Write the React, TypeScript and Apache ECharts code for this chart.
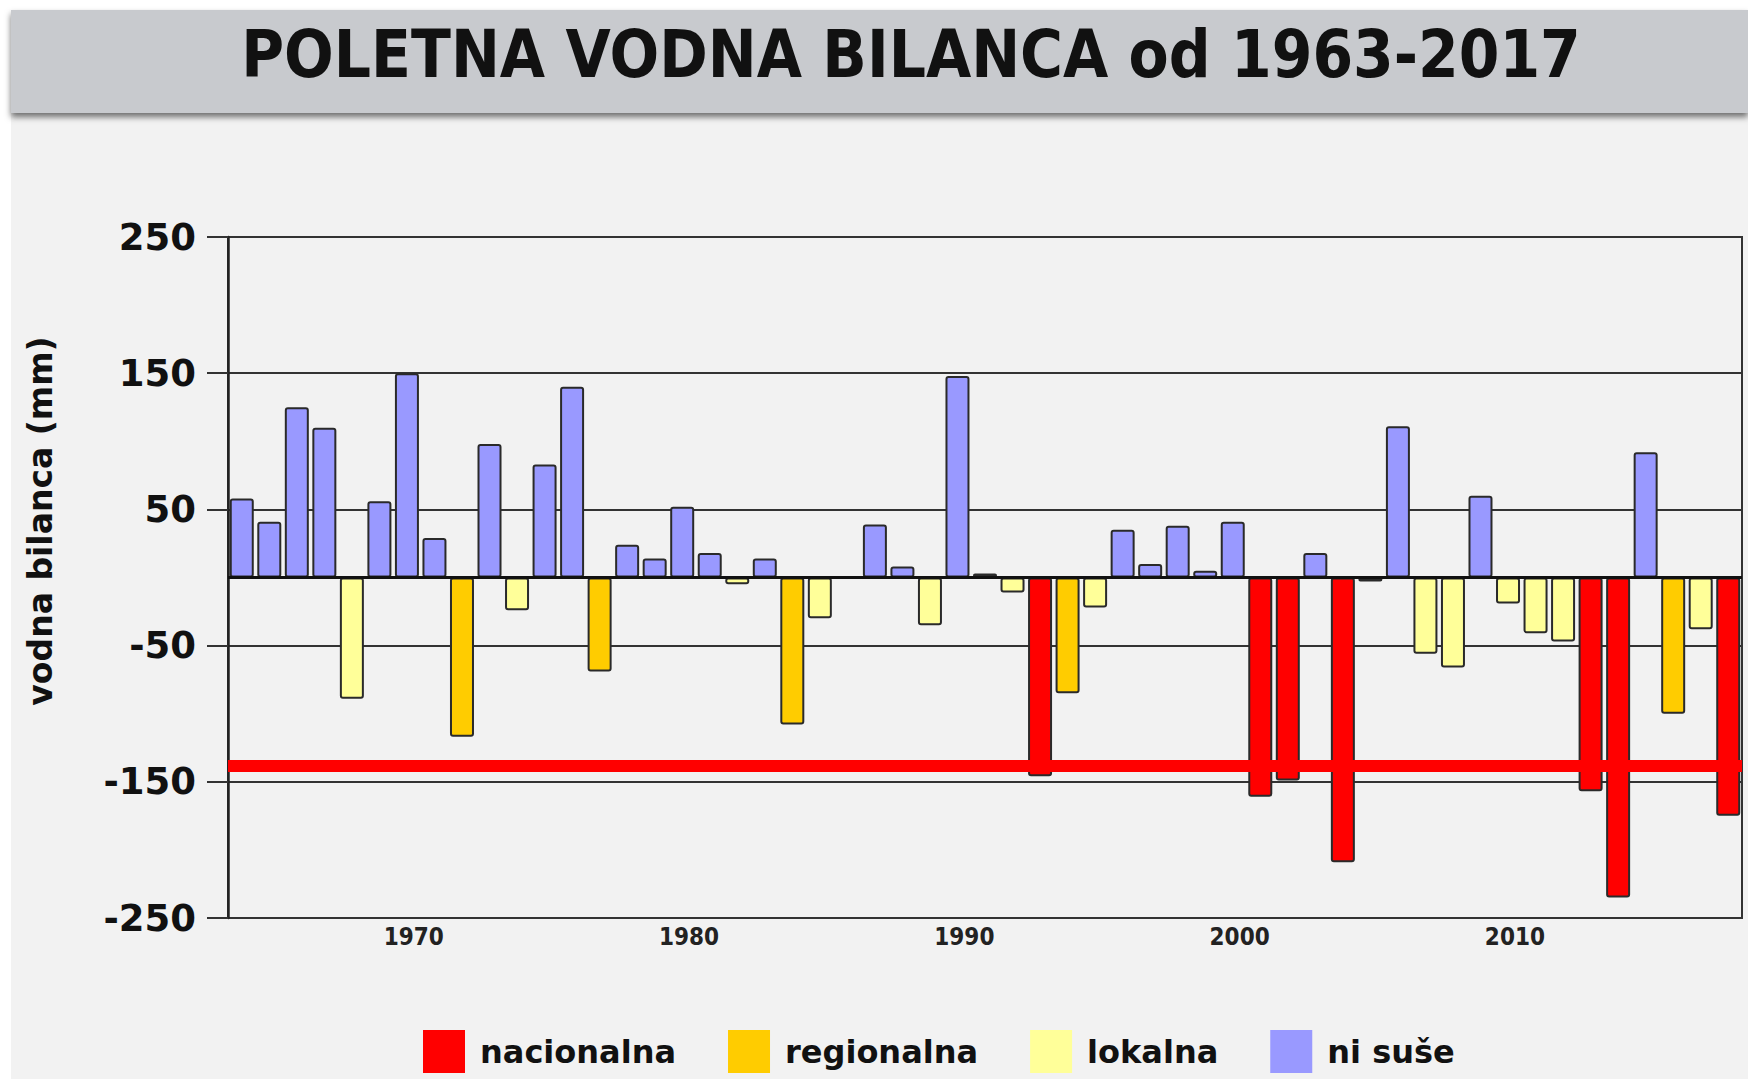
import React, { useEffect, useRef } from "react";
import * as echarts from "echarts";

// ---- Data ----
const YEARS = [
  1963, 1964, 1965, 1966, 1967, 1968, 1969, 1970, 1971, 1972,
  1973, 1974, 1975, 1976, 1977, 1978, 1979, 1980, 1981, 1982,
  1983, 1984, 1985, 1986, 1987, 1988, 1989, 1990, 1991, 1992,
  1993, 1994, 1995, 1996, 1997, 1998, 1999, 2000, 2001, 2002,
  2003, 2004, 2005, 2006, 2007, 2008, 2009, 2010, 2011, 2012,
  2013, 2014, 2015, 2016, 2017,
];
const VALUES = [
  58, 41, 125, 110, -89, 56, 150, 29, -117, 98,
  -24, 83, 140, -69, 24, 14, 52, 18, -5, 14,
  -108, -30, 0, 39, 8, -35, 148, 3, -11, -146,
  -85, -22, 35, 10, 38, 5, 41, -161, -149, 18,
  -209, -3, 111, -56, -66, 60, -19, -41, -47, -157,
  -235, 92, -100, -38, -175,
];
// N = nacionalna, R = regionalna, L = lokalna, S = ni suše
const DROUGHT_CLASS = [
  "S", "S", "S", "S", "L", "S", "S", "S", "R", "S",
  "L", "S", "S", "R", "S", "S", "S", "S", "L", "S",
  "R", "L", "S", "S", "S", "L", "S", "S", "L", "N",
  "R", "L", "S", "S", "S", "S", "S", "N", "N", "S",
  "N", "L", "S", "L", "L", "S", "L", "L", "L", "N",
  "N", "S", "R", "L", "N",
];
const CLASS_KEYS = ["N", "R", "L", "S"];
const CLASS_NAMES = ["nacionalna", "regionalna", "lokalna", "ni suše"];
const THRESHOLD = -138;
const Y_MIN = -250;
const Y_MAX = 250;
const Y_INTERVAL = 100;
const X_LABEL_YEARS = [1970, 1980, 1990, 2000, 2010];
const TITLE = "POLETNA VODNA BILANCA od 1963-2017";
const Y_NAME = "vodna bilanca (mm)";

// ---- Styles ----
const CLASS_COLORS = ["#FF0000", "#FFCC00", "#FFFF99", "#9999FF"];
const LABEL_SHIFT = -0.75;
const FONT = "'DejaVu Sans', sans-serif";
const FONT_COND = "'DejaVu Sans Condensed', 'DejaVu Sans', sans-serif";

export default function App() {
  const ref = useRef<HTMLDivElement>(null);

  useEffect(() => {
    if (!ref.current) return;
    const chart = echarts.init(ref.current, undefined, { renderer: "svg" });

    const barSeries = CLASS_KEYS.map((key, ci) => ({
      name: CLASS_NAMES[ci],
      type: "bar",
      barWidth: 24,
      barGap: "-100%",
      z: 3,
      data: YEARS.map((y, i) => [y, VALUES[i]]).filter(
        (_, i) => DROUGHT_CLASS[i] === key
      ),
      itemStyle: {
        color: CLASS_COLORS[ci],
        borderColor: "#2a2a2a",
        borderWidth: 2,
        borderRadius: 2,
      },
    }));

    const option: any = {
      animation: false,
      backgroundColor: "#F2F2F2",
      graphic: [
        { type: "rect", z: -10, shape: { x: 0, y: 0, width: 11, height: 1079 }, style: { fill: "#FFFFFF" } },
        { type: "rect", z: -10, shape: { x: 0, y: 0, width: 1748, height: 10 }, style: { fill: "#FFFFFF" } },
        {
          type: "rect",
          z: -5,
          shape: { x: 11, y: 10, width: 1737, height: 103 },
          style: {
            fill: "#C8CACE",
            shadowBlur: 6,
            shadowOffsetY: 4,
            shadowColor: "rgba(0,0,0,0.55)",
          },
        },
        {
          type: "text",
          z: 10,
          x: 911,
          y: 54,
          style: {
            text: TITLE,
            fontFamily: FONT_COND,
            fontWeight: "bold",
            fontSize: 65,
            fill: "#111",
            textAlign: "center",
            textVerticalAlign: "middle",
          },
        },
        {
          type: "text",
          z: 10,
          x: 40,
          y: 521,
          rotation: Math.PI / 2,
          style: {
            text: Y_NAME,
            fontFamily: FONT,
            fontWeight: "bold",
            fontSize: 33,
            fill: "#111",
            textAlign: "center",
            textVerticalAlign: "middle",
          },
        },
      ],
      legend: {
        data: CLASS_NAMES,
        left: 418,
        top: 1025,
        icon: "rect",
        itemWidth: 42,
        itemHeight: 43,
        itemGap: 52,
        itemStyle: { borderWidth: 0 },
        textStyle: {
          fontFamily: FONT,
          fontWeight: "bold",
          fontSize: 32,
          color: "#111",
          padding: [0, 0, 0, 10],
        },
      },
      grid: {
        left: 228,
        right: 6,
        top: 237,
        bottom: 161,
        show: true,
        borderColor: "#333",
        borderWidth: 2,
        backgroundColor: "transparent",
      },
      xAxis: {
        type: "value",
        min: YEARS[0] - 0.5,
        max: YEARS[YEARS.length - 1] + 0.5,
        axisLine: { show: false, onZero: false },
        axisTick: { show: false },
        splitLine: { show: false },
        axisLabel: {
          customValues: X_LABEL_YEARS.map((y) => y + LABEL_SHIFT),
          formatter: (v: number) => String(Math.round(v - LABEL_SHIFT)),
          fontFamily: FONT_COND,
          fontWeight: "bold",
          fontSize: 24,
          color: "#222",
          margin: 7,
        },
      },
      yAxis: {
        type: "value",
        min: Y_MIN,
        max: Y_MAX,
        interval: Y_INTERVAL,
        axisLine: { show: true, lineStyle: { color: "#222", width: 2.5 } },
        axisTick: { show: true, length: 21, lineStyle: { color: "#333", width: 2 } },
        splitLine: { show: true, lineStyle: { color: "#333", width: 2.2 } },
        axisLabel: {
          fontFamily: FONT,
          fontWeight: "bold",
          fontSize: 37,
          color: "#111",
          margin: 32,
        },
      },
      series: [
        {
          name: "prag",
          type: "line",
          z: 2,
          silent: true,
          showSymbol: false,
          data: YEARS.map((y) => [y, null]),
          markLine: {
            silent: true,
            symbol: "none",
            label: { show: false },
            lineStyle: { color: "#FF0000", width: 12, type: "solid" },
            data: [{ yAxis: THRESHOLD }],
          },
        },
        ...barSeries,
        {
          name: "nič",
          type: "line",
          z: 4,
          silent: true,
          showSymbol: false,
          data: YEARS.map((y) => [y, null]),
          markLine: {
            silent: true,
            symbol: "none",
            label: { show: false },
            lineStyle: { color: "#111", width: 3, type: "solid" },
            data: [{ yAxis: 0 }],
          },
        },
      ],
    };

    chart.setOption(option);
    return () => chart.dispose();
  }, []);

  return (
    <div
      ref={ref}
      style={{ position: "absolute", left: 0, top: 0, width: 1748, height: 1079 }}
    />
  );
}
